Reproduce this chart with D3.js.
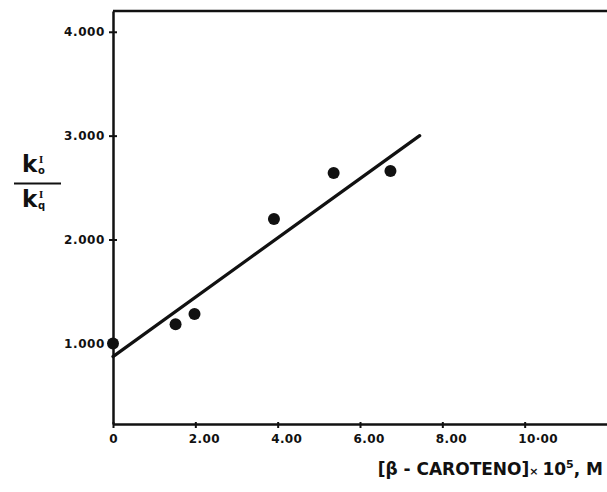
<!DOCTYPE html>
<html>
<head>
<meta charset="utf-8">
<script src="https://cdn.jsdelivr.net/npm/d3@7"></script>
<style>
  body { margin: 0; background: #fff; }
  text { font-family: "DejaVu Sans", sans-serif; font-weight: bold; fill: #111; }
</style>
</head>
<body>
<div id="chart"></div>
<script>
// data
var caroteno = [0, 1.52, 1.98, 3.91, 5.36, 6.74];      // [beta-caroteno] x 10^5 M
var ratio    = [1.0, 1.185, 1.284, 2.197, 2.64, 2.66]; // k_o / k_q
var fitX = [0, 7.45];
var fitY = [0.873, 3.0];
var xTicks = [0, 2, 4, 6, 8, 10];
var xTickLabels = ["0", "2.00", "4.00", "6.00", "8.00", "10·00"];
var yTicks = [1, 2, 3, 4];
var yTickLabels = ["1.000", "2.000", "3.000", "4.000"];

var margin = {top: 11, right: 0, bottom: 68, left: 113},
    width = 607 - margin.left - margin.right,
    height = 492 - margin.top - margin.bottom;

var svg = d3.select("#chart")
  .append("svg")
    .attr("width", 607)
    .attr("height", 492)
  .append("g")
    .attr("transform", "translate(" + margin.left + "," + margin.top + ")");

var x = d3.scaleLinear().domain([0, 12]).range([0, width]);
var y = d3.scaleLinear().domain([0.224, 4.2]).range([height, 0]);

// X axis
var xAxis = svg.append("g")
  .attr("transform", "translate(0," + height + ")")
  .call(d3.axisBottom(x)
    .tickValues(xTicks)
    .tickSizeInner(4)
    .tickSizeOuter(0)
    .tickPadding(6)
    .tickFormat(function(d, i) { return xTickLabels[i]; }));
xAxis.select(".domain").attr("stroke", "#111").attr("stroke-width", 2.5);
xAxis.selectAll(".tick line").attr("stroke", "#111").attr("stroke-width", 2).attr("y1", -2);
xAxis.selectAll(".tick text")
  .style("font-size", "12px")
  .style("letter-spacing", "0.4px")
  .attr("text-anchor", function(d) { return d === 0 ? "middle" : "start"; })
  .attr("dx", function(d) { return d === 0 ? 0 : -7; });

// Y axis
var yAxis = svg.append("g")
  .call(d3.axisLeft(y)
    .tickValues(yTicks)
    .tickSizeInner(4)
    .tickSizeOuter(0)
    .tickPadding(4)
    .tickFormat(function(d, i) { return yTickLabels[i]; }));
yAxis.select(".domain").attr("stroke", "#111").attr("stroke-width", 2.5);
yAxis.selectAll(".tick line").attr("stroke", "#111").attr("stroke-width", 2).attr("x1", 4).attr("x2", -4);
yAxis.selectAll(".tick text").style("font-size", "12px").style("letter-spacing", "0.6px");

// top frame line
svg.append("line")
  .attr("x1", x(0)).attr("x2", x(12))
  .attr("y1", y(4.2)).attr("y2", y(4.2))
  .attr("stroke", "#111").attr("stroke-width", 2.5);

// fitted line
svg.append("line")
  .attr("x1", x(fitX[0])).attr("y1", y(fitY[0]))
  .attr("x2", x(fitX[1])).attr("y2", y(fitY[1]))
  .attr("stroke", "#111").attr("stroke-width", 3.2)
  .attr("stroke-linecap", "round");

// points
svg.selectAll("circle")
  .data(caroteno)
  .enter()
  .append("circle")
    .attr("cx", function(d) { return x(d); })
    .attr("cy", function(d, i) { return y(ratio[i]); })
    .attr("r", 6)
    .attr("fill", "#111");

// X axis label
var xl = svg.append("text")
  .attr("text-anchor", "end")
  .attr("x", 603 - margin.left)
  .attr("y", 475 - margin.top)
  .style("font-size", "17px");
xl.append("tspan").text("[β - CAROTENO]");
xl.append("tspan").text("× ").style("font-size", "11px");
xl.append("tspan").text("10");
xl.append("tspan").text("5").style("font-size", "11px").attr("dy", -7);
xl.append("tspan").text(", M").attr("dy", 7);

// Y axis label (fraction)
var root = d3.select("svg");
function kTerm(yBase, sub) {
  root.append("text").attr("x", 22).attr("y", yBase).style("font-size", "23px").text("k");
  root.append("text").attr("x", 39).attr("y", yBase - 9)
    .style("font-family", "DejaVu Serif").style("font-size", "9px").text("I");
  root.append("text").attr("x", 38).attr("y", yBase + 1.5).style("font-size", "10px").text(sub);
}
kTerm(172, "o");
root.append("line")
  .attr("x1", 14).attr("x2", 61).attr("y1", 183.5).attr("y2", 183.5)
  .attr("stroke", "#111").attr("stroke-width", 2);
kTerm(207, "q");
</script>
</body>
</html>
